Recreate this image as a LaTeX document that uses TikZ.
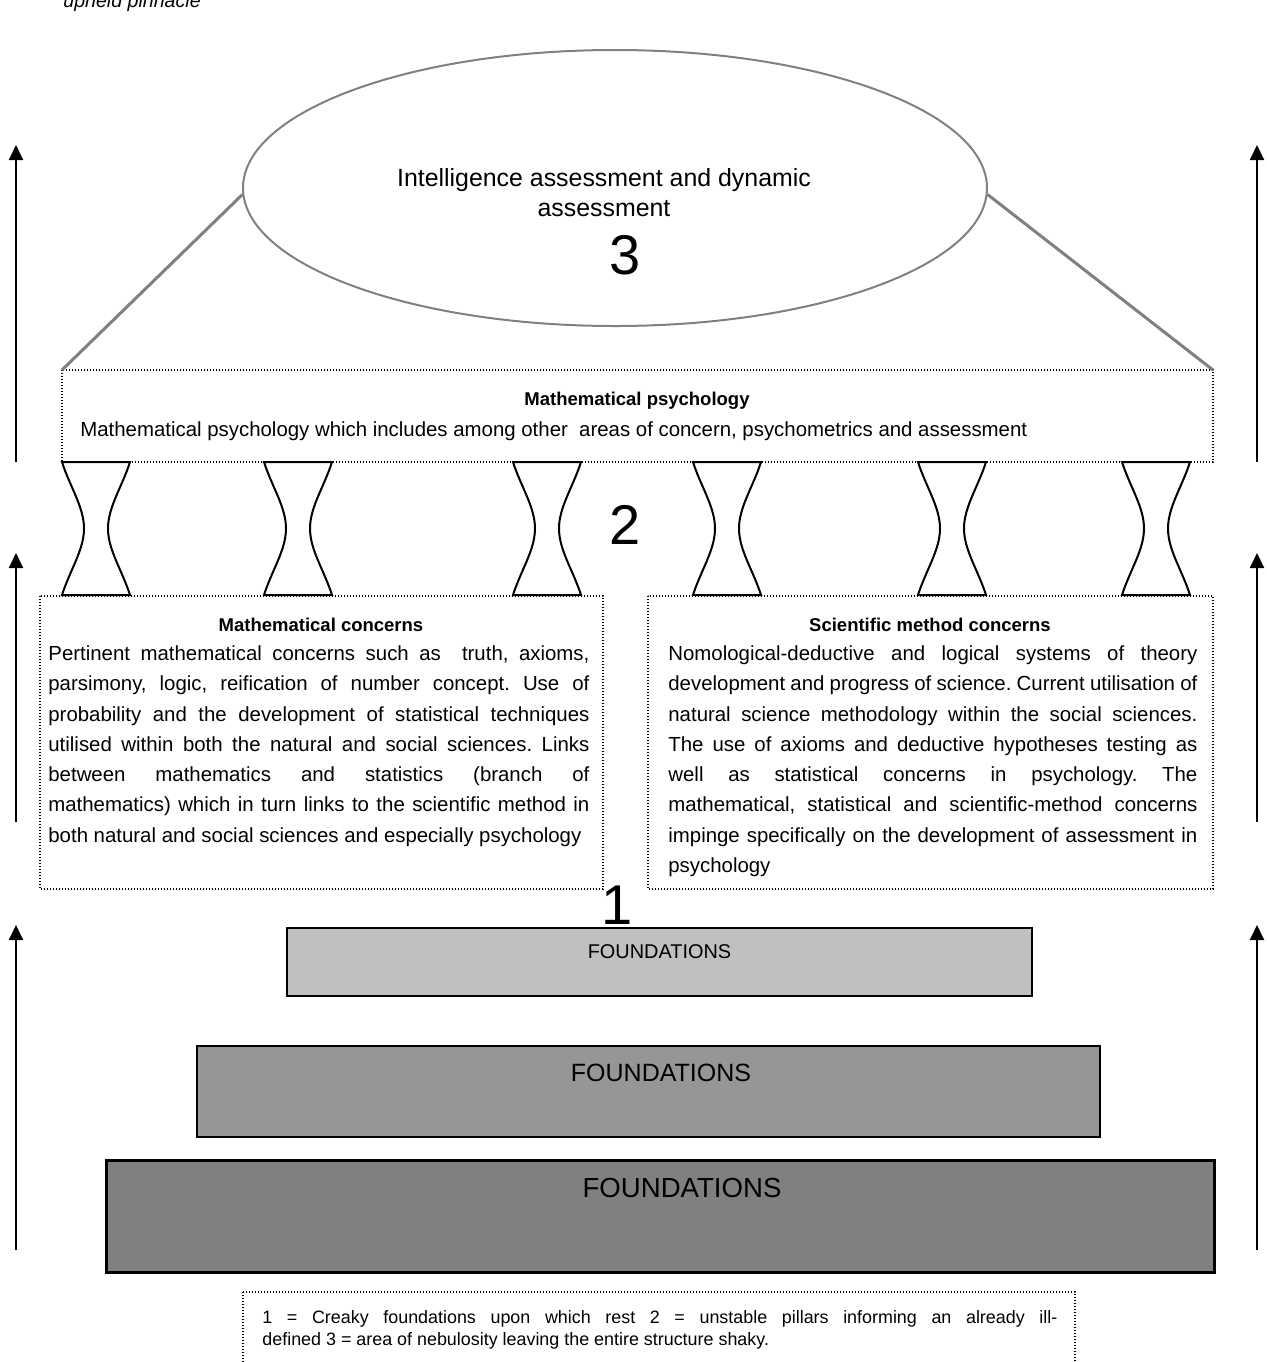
\documentclass[tikz,border=0pt]{standalone}
\usepackage{fontspec}
\setmainfont{Liberation Sans}
\usetikzlibrary{arrows.meta,shapes.geometric}

\definecolor{foundlight}{RGB}{192,192,192}
\definecolor{foundmid}{RGB}{150,150,150}
\definecolor{founddark}{RGB}{128,128,128}
\definecolor{capgrey}{RGB}{128,128,128}

\newcommand\fsz[2]{\fontsize{#1}{#2}\selectfont}
\frenchspacing

\tikzset{
  dotbox/.style={draw=black, line width=0.6pt, dash pattern=on 0.6pt off 0.9pt},
  pillarline/.style={draw=black, line width=1pt, fill=white},
  uparrow/.style={draw=black, line width=1pt, -{Triangle[width=7pt,length=7.5pt]}},
  greyline/.style={draw=capgrey, line width=1.5pt},
  foundbox/.style={draw=black, line width=1pt},
  bignum/.style={font=\fsz{28}{30}, inner sep=0},
  bodytext/.style={font=\fsz{10.2}{15.15}, inner sep=0, align=justify, anchor=north west},
  boxtitle/.style={font=\bfseries\fsz{9.25}{11}, inner sep=0, anchor=base},
  foundtext/.style={inner sep=0, anchor=center},
  pillar/.pic={
    \path[pillarline] (0,0) -- (68,0)
      .. controls (60,25) and (46,45) .. (46,66.5)
      .. controls (46,88) and (60,108) .. (68,133)
      -- (0,133)
      .. controls (8,108) and (22,88) .. (22,66.5)
      .. controls (22,45) and (8,25) .. (0,0) -- cycle;
  }
}

\begin{document}
\begin{tikzpicture}[x=0.5pt,y=-0.5pt]
  \useasboundingbox (0,0) rectangle (1266,1362);

  % caption fragment running off the top edge
  \node[font=\itshape\fsz{9.8}{11}, inner sep=0, anchor=base west] (pinnacle) at (63,7) {upheld pinnacle};

  % level 3: the pinnacle
  \node[ellipse, draw=capgrey, line width=1pt, minimum width=372pt, minimum height=138pt, inner sep=0] (ell) at (615,188) {};
  \node[font=\fsz{12.45}{15}, align=center, inner sep=0, anchor=north] (elltext) at (604,165)
    {\strut Intelligence assessment and dynamic\\assessment};
  \node[bignum] (three) at (625,255) {3};

  % mathematical psychology box
  \draw[dotbox] (62,370) rectangle (1213,462);
  \coordinate (psychNW) at (62,370);
  \coordinate (psychNE) at (1213,370);
  \draw[greyline] (ell.181) -- (psychNW);
  \draw[greyline] (ell.359) -- (psychNE);
  \node[boxtitle] (psychtitle) at (637,405) {Mathematical psychology};
  \node[font=\fsz{10.2}{15.15}, inner sep=0, anchor=base west] (psychtext) at (80,436)
    {Mathematical psychology which includes among other\ \ areas of concern, psychometrics and assessment};

  % level 2: the pillars
  \foreach \px in {62,264,513,693,918,1122}
    \pic at (\px,462) {pillar};
  \node[bignum] (two) at (625,525) {2};

  % level 1 boxes
  \draw[dotbox] (40,596) rectangle (603,889);
  \draw[dotbox] (648,596) rectangle (1213,889);
  \node[boxtitle] (mathtitle) at (321,631) {Mathematical concerns};
  \node[boxtitle] (scititle) at (930,631) {Scientific method concerns};
  \node[bodytext, text width=270.5pt] (mathtext) at (48,638.8)
    {\strut Pertinent mathematical concerns such as\ \ truth, axioms,\linebreak
     parsimony, logic, reification of number concept. Use of\linebreak
     probability and the development of statistical techniques\linebreak
     utilised within both the natural and social sciences. Links\linebreak
     between mathematics and statistics (branch of\linebreak
     mathematics) which in turn links to the scientific method in\linebreak
     both natural and social sciences and especially psychology};
  \node[bodytext, text width=264.5pt] (scitext) at (668,638.8)
    {\strut Nomological-deductive and logical systems of theory\linebreak
     development and progress of science. Current utilisation of\linebreak
     natural science methodology within the social sciences.\linebreak
     The use of axioms and deductive hypotheses testing as\linebreak
     well as statistical concerns in psychology. The\linebreak
     mathematical, statistical and scientific-method concerns\linebreak
     impinge specifically on the development of assessment in\linebreak
     psychology};
  \node[bignum] (one) at (617,905) {1};

  % foundations
  \draw[foundbox, fill=foundlight] (287,928) rectangle (1032,996);
  \node[foundtext, font=\fsz{9.95}{11}] (found1) at (659.5,952) {FOUNDATIONS};
  \draw[foundbox, fill=foundmid] (197,1046) rectangle (1100,1137);
  \node[foundtext, font=\fsz{12.5}{14}] (found2) at (661,1073) {FOUNDATIONS};
  \draw[foundbox, line width=1.5pt, fill=founddark] (106,1160) rectangle (1214,1272);
  \node[foundtext, font=\fsz{13.8}{15}] (found3) at (682,1188) {FOUNDATIONS};

  % upward arrows on both sides
  \foreach \ax/\side in {16/L,1257/R}{
    \coordinate (a\side1s) at (\ax,462);  \coordinate (a\side1e) at (\ax,145);
    \coordinate (a\side2s) at (\ax,822);  \coordinate (a\side2e) at (\ax,553);
    \coordinate (a\side3s) at (\ax,1250); \coordinate (a\side3e) at (\ax,925);
    \draw[uparrow] (a\side1s) -- (a\side1e);
    \draw[uparrow] (a\side2s) -- (a\side2e);
    \draw[uparrow] (a\side3s) -- (a\side3e);
  }

  % key
  \draw[dotbox] (243,1292) rectangle (1075,1380);
  \node[font=\fsz{8.95}{11}, inner sep=0, align=justify, anchor=north west, text width=397.5pt] (key) at (262,1307.6)
    {\strut 1 = Creaky foundations upon which rest 2 = unstable pillars informing an already ill-\linebreak
     defined 3 = area of nebulosity leaving the entire structure shaky.};
\end{tikzpicture}
\end{document}
